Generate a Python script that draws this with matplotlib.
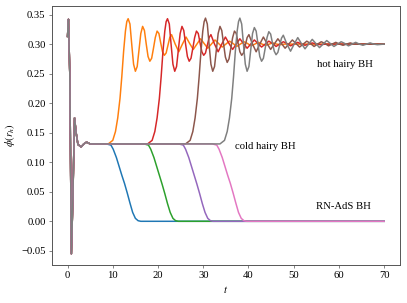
import matplotlib

matplotlib.use("Agg")
import matplotlib.pyplot as plt  # noqa: E402

# shared early transient (all runs start from the same data)
HEAD_T = [0.0, 0.2, 0.5, 0.85, 1.15, 1.55, 1.9, 2.3, 3.0, 3.6, 4.2, 5.0]
HEAD_PHI = [0.313, 0.342, 0.25, -0.055, 0.03, 0.175, 0.15, 0.13, 0.126, 0.131, 0.134, 0.131]

# runs that decay to RN-AdS
BLUE_T = [8.6, 9.6, 10.1, 10.8, 11.4, 12.0, 12.6, 13.2, 13.8, 14.4, 15.0, 15.6, 16.2, 70.0]
BLUE_PHI = [0.131, 0.129, 0.122, 0.108, 0.093, 0.078, 0.064, 0.048, 0.031, 0.015, 0.005, 0.001, 0.0, 0.0]
GREEN_T = [16.9, 17.9, 18.4, 19.1, 19.7, 20.3, 20.9, 21.5, 22.1, 22.7, 23.3, 23.9, 24.5, 70.0]
GREEN_PHI = [0.131, 0.129, 0.122, 0.108, 0.093, 0.078, 0.063, 0.047, 0.030, 0.015, 0.005, 0.001, 0.0, 0.0]
PURPLE_T = [24.6, 25.6, 26.1, 26.8, 27.4, 28.0, 28.6, 29.2, 29.8, 30.4, 31.0, 31.6, 32.2, 70.0]
PURPLE_PHI = [0.131, 0.129, 0.122, 0.108, 0.093, 0.078, 0.063, 0.047, 0.030, 0.015, 0.005, 0.001, 0.0, 0.0]
PINK_T = [32.0, 33.0, 33.5, 34.2, 34.8, 35.4, 36.0, 36.6, 37.2, 37.8, 38.4, 39.0, 39.6, 70.0]
PINK_PHI = [0.131, 0.129, 0.122, 0.108, 0.093, 0.078, 0.064, 0.048, 0.031, 0.015, 0.005, 0.001, 0.0, 0.0]

# runs that grow to the hot hairy BH
ORANGE_T = [9.0, 10.0, 10.6, 11.1, 11.6, 12.0, 12.4, 12.8, 13.1, 13.4,
            13.8, 14.2, 14.6, 15.0, 15.4, 15.8, 16.2, 16.6, 17.0, 17.4, 17.8, 18.2,
            18.6, 19.0, 19.4, 19.8, 20.2, 20.6, 21.0, 21.4, 21.8, 22.2, 22.6, 23.0,
            23.8, 24.6, 25.4, 26.2, 27.0, 27.8, 28.6, 29.4, 30.2, 31.0, 31.8, 32.6,
            33.4, 34.2, 35.0, 35.8, 36.6, 37.4, 38.2, 39.0, 39.8, 40.6, 41.4, 42.2,
            43.0, 43.8, 44.6, 45.4, 46.2, 47.0, 48.0, 70.0]
ORANGE_PHI = [0.131, 0.137, 0.152, 0.175, 0.208, 0.245, 0.288, 0.322, 0.338, 0.343,
              0.334, 0.299, 0.266, 0.254, 0.262, 0.290, 0.318, 0.330, 0.323, 0.300, 0.279, 0.271,
              0.276, 0.293, 0.311, 0.322, 0.318, 0.302, 0.287, 0.281, 0.285, 0.298, 0.311, 0.316,
              0.300, 0.287, 0.300, 0.312, 0.301, 0.291, 0.300, 0.309, 0.301, 0.293, 0.300, 0.307,
              0.301, 0.295, 0.300, 0.305, 0.301, 0.296, 0.300, 0.304, 0.301, 0.297, 0.300, 0.303,
              0.300, 0.298, 0.300, 0.302, 0.300, 0.299, 0.300, 0.300]
RED_T = [17.7, 18.7, 19.3, 19.8, 20.3, 20.7, 21.1, 21.5, 21.8, 22.1,
         22.5, 22.9, 23.3, 23.7, 24.1, 24.5, 24.9, 25.3, 25.7, 26.1, 26.5, 26.9,
         27.3, 27.7, 28.1, 28.5, 28.9, 29.3, 29.7, 30.1, 30.5, 30.9, 31.3, 31.7,
         32.5, 33.3, 34.1, 34.9, 35.7, 36.5, 37.3, 38.1, 38.9, 39.7, 40.5, 41.3,
         42.1, 42.9, 43.7, 44.5, 45.3, 46.1, 46.9, 47.7, 48.5, 49.3, 50.1, 50.9,
         51.7, 52.5, 53.3, 54.1, 55.0, 56.0, 57.0, 70.0]
RED_PHI = [0.131, 0.137, 0.152, 0.175, 0.208, 0.245, 0.288, 0.322, 0.338, 0.343,
           0.334, 0.299, 0.266, 0.254, 0.262, 0.290, 0.318, 0.330, 0.323, 0.300, 0.279, 0.271,
           0.276, 0.293, 0.311, 0.322, 0.318, 0.302, 0.287, 0.281, 0.285, 0.298, 0.311, 0.316,
           0.300, 0.287, 0.300, 0.312, 0.301, 0.291, 0.300, 0.309, 0.301, 0.293, 0.300, 0.307,
           0.301, 0.295, 0.300, 0.305, 0.301, 0.296, 0.300, 0.304, 0.301, 0.297, 0.300, 0.303,
           0.300, 0.298, 0.300, 0.302, 0.300, 0.299, 0.300, 0.300]
BROWN_T = [26.1, 27.1, 27.7, 28.2, 28.7, 29.1, 29.5, 29.9, 30.2, 30.5,
           30.9, 31.3, 31.7, 32.1, 32.5, 32.9, 33.3, 33.7, 34.1, 34.5, 34.9, 35.3,
           35.7, 36.1, 36.5, 36.9, 37.3, 37.7, 38.1, 38.5, 38.9, 39.3, 39.7, 40.1,
           40.9, 41.7, 42.5, 43.3, 44.1, 44.9, 45.7, 46.5, 47.3, 48.1, 48.9, 49.7,
           50.5, 51.3, 52.1, 52.9, 53.7, 54.5, 55.3, 56.1, 56.9, 57.7, 58.5, 59.3,
           60.1, 60.9, 61.7, 62.5, 63.4, 70.0]
BROWN_PHI = [0.131, 0.137, 0.152, 0.175, 0.208, 0.245, 0.288, 0.322, 0.338, 0.344,
             0.334, 0.299, 0.266, 0.254, 0.262, 0.290, 0.318, 0.330, 0.323, 0.300, 0.278, 0.269,
             0.275, 0.293, 0.311, 0.322, 0.318, 0.302, 0.287, 0.281, 0.285, 0.298, 0.311, 0.316,
             0.300, 0.287, 0.300, 0.312, 0.301, 0.291, 0.300, 0.309, 0.301, 0.293, 0.300, 0.307,
             0.301, 0.295, 0.300, 0.305, 0.301, 0.296, 0.300, 0.304, 0.301, 0.297, 0.300, 0.303,
             0.300, 0.298, 0.300, 0.302, 0.300, 0.300]
GRAY_T = [33.7, 34.7, 35.3, 35.8, 36.3, 36.7, 37.1, 37.5, 37.8, 38.1,
          38.5, 38.9, 39.3, 39.7, 40.1, 40.5, 40.9, 41.3, 41.7, 42.1, 42.5, 42.9,
          43.3, 43.7, 44.1, 44.5, 44.9, 45.3, 45.7, 46.1, 46.5, 46.9, 47.3, 47.7,
          48.5, 49.3, 50.1, 50.9, 51.7, 52.5, 53.3, 54.1, 54.9, 55.7, 56.5, 57.3,
          58.1, 58.9, 59.7, 60.5, 61.3, 62.1, 62.9, 63.7, 64.5, 65.3, 66.1, 66.9,
          67.7, 68.5, 70.0]
GRAY_PHI = [0.131, 0.137, 0.152, 0.175, 0.208, 0.245, 0.288, 0.322, 0.338, 0.344,
            0.334, 0.299, 0.266, 0.254, 0.262, 0.290, 0.318, 0.328, 0.322, 0.300, 0.279, 0.271,
            0.276, 0.293, 0.311, 0.321, 0.317, 0.302, 0.288, 0.282, 0.286, 0.298, 0.310, 0.315,
            0.300, 0.288, 0.300, 0.311, 0.301, 0.292, 0.300, 0.308, 0.301, 0.294, 0.300, 0.306,
            0.301, 0.296, 0.300, 0.304, 0.301, 0.297, 0.300, 0.303, 0.300, 0.298, 0.300, 0.302,
            0.300, 0.299, 0.300]

RUNS = [
    (BLUE_T, BLUE_PHI), (ORANGE_T, ORANGE_PHI), (GREEN_T, GREEN_PHI), (RED_T, RED_PHI),
    (PURPLE_T, PURPLE_PHI), (BROWN_T, BROWN_PHI), (PINK_T, PINK_PHI), (GRAY_T, GRAY_PHI),
]
COLORS = ["C0", "C1", "C2", "C3", "C4", "C5", "C6", "C7"]

plt.rcParams["font.family"] = ["Liberation Serif", "DejaVu Serif"]
plt.rcParams["mathtext.fontset"] = "stix"
plt.rcParams["axes.unicode_minus"] = True

FS = 12
dpi = 407 / 6.4
fig = plt.figure(figsize=(6.4, 303 / dpi), dpi=dpi)
ax = fig.add_axes([51.7 / 407, (303 - 265.3) / 303, (400 - 51.7) / 407, (265.3 - 6) / 303])

for (t, phi), c in zip(RUNS, COLORS):
    ax.plot(HEAD_T + t, HEAD_PHI + phi, color=c, lw=1.7)

ax.text(55.1, 0.261, "hot hairy BH", fontsize=FS)
ax.text(37.0, 0.123, "cold hairy BH", fontsize=FS)
ax.text(54.9, 0.020, "RN-AdS BH", fontsize=FS)

ax.set_xticks(range(0, 71, 10))
ax.set_yticks([-0.05, 0.0, 0.05, 0.10, 0.15, 0.20, 0.25, 0.30, 0.35])
ax.set_yticklabels(["\u22120.05", "0.00", "0.05", "0.10", "0.15", "0.20", "0.25", "0.30", "0.35"])
ax.set_xlim(-3.5, 73.5)
ax.set_ylim(-0.0745, 0.3645)
ax.set_xlabel("$t$", fontsize=FS)
ax.set_ylabel(r"$\phi(r_h)$", fontsize=FS)
for s in ax.spines.values():
    s.set_color("#555555")
    s.set_linewidth(1.1)
ax.tick_params(color="#555555", labelsize=FS)

fig.savefig("out.png", dpi=dpi)
